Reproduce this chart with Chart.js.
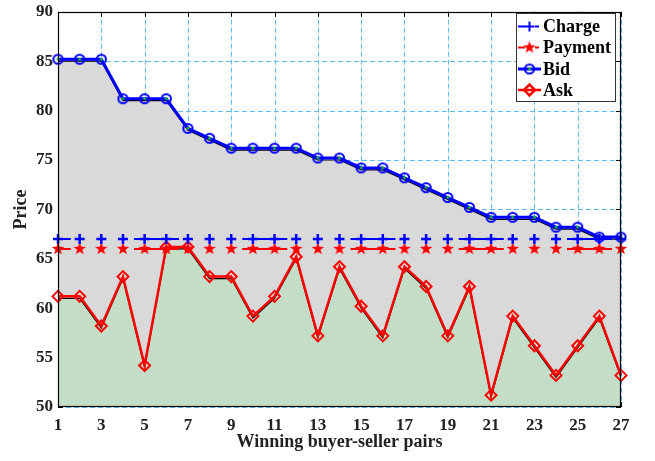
<!DOCTYPE html>
<html>
<head>
<meta charset="utf-8">
<title>Price per winning buyer-seller pair</title>
<script src="https://cdn.jsdelivr.net/npm/chart.js@4.4.1/dist/chart.umd.min.js"></script>
<style>
  html, body { margin: 0; padding: 0; background: #ffffff; }
  #wrap { width: 655px; height: 461px; }
</style>
</head>
<body>
<div id="wrap"><canvas id="chart" width="655" height="461"></canvas></div>
<script>
// Winning buyer-seller pairs (x) and prices (y)
const pairs = [1, 2, 3, 4, 5, 6, 7, 8, 9, 10, 11, 12, 13, 14, 15, 16, 17, 18, 19, 20, 21, 22, 23, 24, 25, 26, 27];
const chargePrice = [67, 67, 67, 67, 67, 67, 67, 67, 67, 67, 67, 67, 67, 67, 67, 67, 67, 67, 67, 67, 67, 67, 67, 67, 67, 67, 67];
const paymentPrice = [66, 66, 66, 66, 66, 66, 66, 66, 66, 66, 66, 66, 66, 66, 66, 66, 66, 66, 66, 66, 66, 66, 66, 66, 66, 66, 66];
const bidPrice = [85.2, 85.2, 85.2, 81.2, 81.2, 81.2, 78.2, 77.2, 76.2, 76.2, 76.2, 76.2, 75.2, 75.2, 74.2, 74.2, 73.2, 72.2, 71.2, 70.2, 69.2, 69.2, 69.2, 68.2, 68.2, 67.2, 67.2];
const askPrice = [61.2, 61.2, 58.2, 63.2, 54.2, 66.2, 66.2, 63.2, 63.2, 59.2, 61.2, 65.2, 57.2, 64.2, 60.2, 57.2, 64.2, 62.2, 57.2, 62.2, 51.2, 59.2, 56.2, 53.2, 56.2, 59.2, 53.2];
// Upper edges of the shaded areas (black outline just under the coloured lines)
const bidAreaTop = [85, 85, 85, 81, 81, 81, 78, 77, 76, 76, 76, 76, 75, 75, 74, 74, 73, 72, 71, 70, 69, 69, 69, 68, 68, 67, 67];
const askAreaTop = [61, 61, 58, 63, 54, 66, 66, 63, 63, 59, 61, 65, 57, 64, 60, 57, 64, 62, 57, 62, 51, 59, 56, 53, 56, 59, 53];
const xTicks = [1, 3, 5, 7, 9, 11, 13, 15, 17, 19, 21, 23, 25, 27];
const yTicks = [50, 55, 60, 65, 70, 75, 80, 85, 90];

const SERIF = "'Liberation Serif', 'Times New Roman', Times, serif";
const BLUE = '#0000ff';
const RED = '#ff0000';
const GRID = 'rgb(95, 190, 236)';

// Filled five-point star marker
function starMarker(color, outer, inner) {
  const size = Math.ceil(outer * 2 + 4);
  const c = document.createElement('canvas');
  c.width = c.height = size;
  const g = c.getContext('2d');
  g.fillStyle = color;
  g.beginPath();
  for (let i = 0; i < 10; i++) {
    const a = -Math.PI / 2 + i * Math.PI / 5;
    const r = i % 2 ? inner : outer;
    g.lineTo(size / 2 + r * Math.cos(a), size / 2 + r * Math.sin(a));
  }
  g.closePath();
  g.fill();
  return c;
}

// Open blue circle with a small green centre dot
function ringMarker(color, dot, radius) {
  const size = Math.ceil(radius * 2 + 5);
  const c = document.createElement('canvas');
  c.width = c.height = size;
  const g = c.getContext('2d');
  g.strokeStyle = color;
  g.lineWidth = 2;
  g.beginPath();
  g.arc(size / 2, size / 2, radius, 0, Math.PI * 2);
  g.stroke();
  g.fillStyle = dot;
  g.beginPath();
  g.arc(size / 2, size / 2, 1.4, 0, Math.PI * 2);
  g.fill();
  return c;
}

const star = starMarker(RED, 6.6, 2.7);
const ring = ringMarker(BLUE, '#19c219', 4.6);

const toPoints = (ys) => pairs.map((p, i) => ({ x: p, y: ys[i] }));

// Dash pattern shared by the two flat price lines
const flatDash = [45, 63.25];
const flatDashOffset = 32.25;

const legendItems = [
  { text: 'Charge', color: BLUE, style: 'cross', radius: 5, width: 2.5, dashed: true },
  { text: 'Payment', color: RED, style: star, radius: 6, width: 1, dashed: true },
  { text: 'Bid', color: BLUE, style: ring, radius: 5, width: 2, dashed: false },
  { text: 'Ask', color: RED, style: 'rectRot', radius: 5.5, width: 2, dashed: false }
];

// Dashed grid, inward tick marks, box and in-plot legend
const framePlugin = {
  id: 'frame',
  beforeDatasetsDraw(chart) {
    const { ctx, chartArea: a, scales } = chart;
    ctx.save();
    ctx.strokeStyle = GRID;
    ctx.lineWidth = 1;
    ctx.setLineDash([5, 3]);
    ctx.beginPath();
    yTicks.forEach(v => {
      const y = Math.round(scales.y.getPixelForValue(v)) + 0.5;
      ctx.moveTo(a.left, y); ctx.lineTo(a.right, y);
    });
    xTicks.forEach(v => {
      const x = Math.round(scales.x.getPixelForValue(v)) + 0.5;
      ctx.moveTo(x, a.top); ctx.lineTo(x, a.bottom);
    });
    ctx.stroke();
    ctx.setLineDash([]);
    ctx.strokeStyle = '#000';
    ctx.beginPath();
    yTicks.forEach(v => {
      const y = Math.round(scales.y.getPixelForValue(v)) + 0.5;
      ctx.moveTo(a.right, y); ctx.lineTo(a.right - 5, y);
      ctx.moveTo(a.left, y); ctx.lineTo(a.left + 5, y);
    });
    xTicks.forEach(v => {
      const x = Math.round(scales.x.getPixelForValue(v)) + 0.5;
      ctx.moveTo(x, a.top); ctx.lineTo(x, a.top + 5);
      ctx.moveTo(x, a.bottom); ctx.lineTo(x, a.bottom - 5);
    });
    ctx.stroke();
    ctx.restore();
  },
  afterDatasetsDraw(chart) {
    const { ctx, chartArea: a } = chart;
    ctx.save();
    ctx.strokeStyle = '#000';
    ctx.lineWidth = 1.2;
    ctx.strokeRect(Math.round(a.left) + 0.5, Math.round(a.top) + 0.5,
      Math.round(a.right - a.left) - 1, Math.round(a.bottom - a.top) - 1);
    ctx.restore();
  },
  afterDraw(chart) {
    const { ctx } = chart;
    const box = { x: 516.5, y: 13.5, w: 99, h: 88 };
    ctx.save();
    ctx.fillStyle = '#fff';
    ctx.fillRect(box.x, box.y, box.w, box.h);
    ctx.strokeStyle = '#333';
    ctx.lineWidth = 1;
    ctx.strokeRect(box.x, box.y, box.w, box.h);
    const rows = [26.5, 47.5, 69, 90];
    legendItems.forEach((it, i) => {
      const y = rows[i];
      ctx.strokeStyle = it.color;
      ctx.lineWidth = it.dashed ? 2 : (it.text === 'Bid' ? 3 : 2.5);
      ctx.beginPath();
      if (it.dashed) {
        ctx.moveTo(518, y); ctx.lineTo(525, y);
        ctx.moveTo(535, y); ctx.lineTo(539, y);
      } else {
        ctx.moveTo(518, y); ctx.lineTo(541, y);
      }
      ctx.stroke();
      ctx.strokeStyle = it.color;
      ctx.fillStyle = 'rgba(0,0,0,0)';
      Chart.helpers.drawPoint(ctx, {
        pointStyle: it.style, radius: it.radius, borderWidth: it.width, rotation: 0
      }, 529.5, y);
      ctx.fillStyle = '#000';
      ctx.font = 'bold 18px ' + SERIF;
      ctx.textBaseline = 'middle';
      ctx.textAlign = 'left';
      ctx.fillText(it.text, 543, y + 1);
    });
    ctx.restore();
  }
};

Chart.defaults.font.family = SERIF;

new Chart(document.getElementById('chart'), {
  type: 'line',
  data: {
    datasets: [
      {
        label: 'Charge',
        data: toPoints(chargePrice),
        borderColor: BLUE,
        backgroundColor: BLUE,
        borderWidth: 2,
        borderDash: flatDash,
        borderDashOffset: flatDashOffset,
        pointStyle: 'cross',
        pointRadius: 5,
        pointBorderWidth: 2.5,
        pointBorderColor: BLUE,
        fill: false,
        clip: false,
        order: 0
      },
      {
        label: 'Payment',
        data: toPoints(paymentPrice),
        borderColor: RED,
        backgroundColor: RED,
        borderWidth: 2,
        borderDash: flatDash,
        borderDashOffset: flatDashOffset,
        pointStyle: star,
        pointRadius: 6,
        fill: false,
        clip: false,
        order: 1
      },
      {
        label: 'Bid',
        data: toPoints(bidPrice),
        borderColor: BLUE,
        borderWidth: 3,
        pointStyle: ring,
        pointRadius: 5,
        fill: false,
        clip: false,
        order: 3
      },
      {
        label: 'Ask',
        data: toPoints(askPrice),
        borderColor: RED,
        borderWidth: 2.5,
        pointStyle: 'rectRot',
        pointRadius: 5.5,
        pointBorderWidth: 2,
        pointBorderColor: RED,
        pointBackgroundColor: 'rgba(0,0,0,0)',
        fill: false,
        clip: false,
        order: 2
      },
      {
        label: 'Ask area',
        data: toPoints(askAreaTop),
        borderColor: '#000',
        backgroundColor: '#c3ddc6',
        borderWidth: 1.2,
        pointRadius: 0,
        fill: 'start',
        order: 4
      },
      {
        label: 'Bid area',
        data: toPoints(bidAreaTop),
        borderColor: '#000',
        backgroundColor: '#d9d9d9',
        borderWidth: 1.2,
        pointRadius: 0,
        fill: 'start',
        order: 5
      }
    ]
  },
  options: {
    responsive: false,
    animation: false,
    events: [],
    layout: { padding: { left: 0, top: 7, right: 34, bottom: 0 } },
    plugins: {
      legend: { display: false },
      tooltip: { enabled: false }
    },
    elements: { line: { tension: 0 } },
    scales: {
      x: {
        type: 'linear',
        min: 1,
        max: 27,
        afterBuildTicks: (s) => { s.ticks = xTicks.map(v => ({ value: v })); },
        afterFit: (s) => { s.height = 54; },
        grid: { display: false, drawTicks: false, tickLength: 0 },
        border: { display: false },
        ticks: {
          color: '#222', padding: 8, maxRotation: 0, autoSkip: false,
          font: { family: SERIF, size: 17, weight: 'bold' }
        },
        title: {
          display: true, text: 'Winning buyer-seller pairs', color: '#222',
          font: { family: SERIF, size: 18, weight: 'bold' },
          padding: { top: 0, bottom: 8 }
        }
      },
      y: {
        min: 50,
        max: 90,
        afterBuildTicks: (s) => { s.ticks = yTicks.map(v => ({ value: v })); },
        afterFit: (s) => { s.width = 58; },
        grid: { display: false, drawTicks: false, tickLength: 0 },
        border: { display: false },
        ticks: {
          color: '#222', padding: 5,
          font: { family: SERIF, size: 17, weight: 'bold', lineHeight: 0.8 }
        },
        title: {
          display: true, text: 'Price', color: '#222',
          font: { family: SERIF, size: 18, weight: 'bold' },
          padding: { top: 11, bottom: 0 }
        }
      }
    }
  },
  plugins: [framePlugin]
});
</script>
</body>
</html>
